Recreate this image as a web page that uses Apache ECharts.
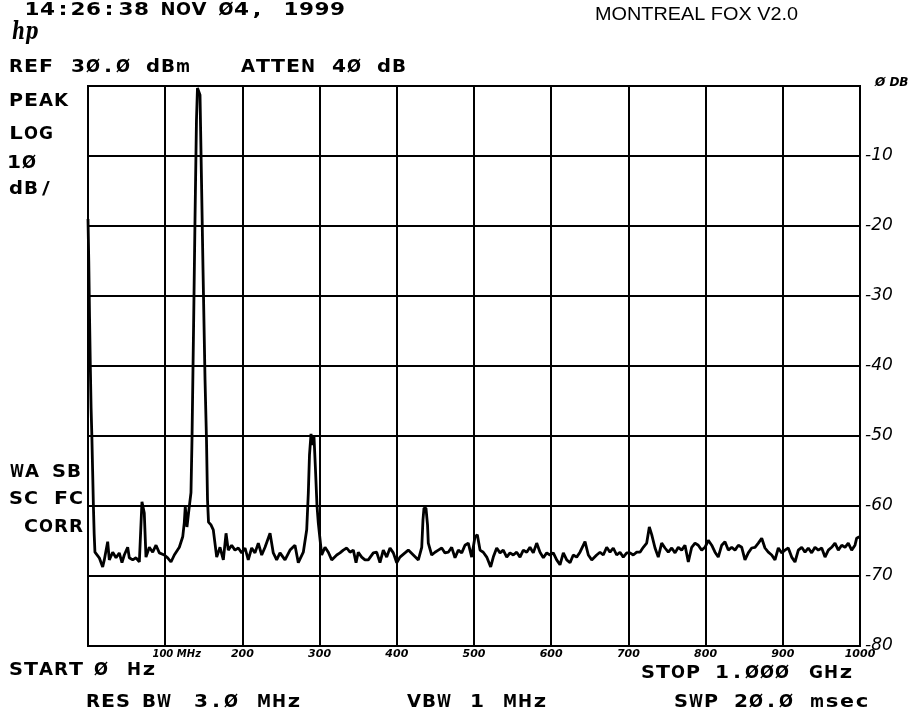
<!DOCTYPE html>
<html><head><meta charset="utf-8">
<script src="https://cdn.jsdelivr.net/npm/echarts@6/dist/echarts.min.js"></script>
<style>html,body{margin:0;padding:0;background:#fff}#c{width:916px;height:716px}</style>
</head><body><div id="c"></div>
<script>
// ---- data (frequency in MHz, level in dB relative to REF) ----
const freqMHz = [
  0,1,2,3,4,5,6,7,8,9,
  10.4,14.6,19.0,21.1,25.5,27.6,32.0,36.3,40.5,44.0,
  47.0,51.4,53.5,57.9,62.2,66.5,69.9,72.9,75.1,79.4,
  83.8,88.1,92.4,98.8,103.2,107.5,111.8,118.3,122.7,124.7,
  126.0,128.2,131.2,133.4,134.7,136.7,138.6,140.5,141.8,143.1,
  145.1,147.0,149.0,151.6,153.5,154.8,156.1,159.3,162.3,166.7,
  171.0,175.3,178.8,181.7,186.1,190.4,194.7,199.1,203.4,207.6,
  212.0,216.3,220.6,225.0,229.3,235.8,240.0,244.4,248.7,255.2,
  261.7,268.1,272.4,278.9,283.3,285.4,286.9,288.9,290.8,292.7,
  294.7,296.6,298.3,302.7,307.0,311.3,315.7,322.2,326.4,330.7,
  335.1,339.4,343.7,347.2,350.1,354.5,358.8,363.1,369.6,373.9,
  378.2,382.5,386.9,391.2,395.5,399.9,404.1,410.6,414.9,421.4,
  427.9,432.3,433.9,435.2,437.8,439.8,440.8,445.2,449.5,453.8,
  458.2,462.4,466.7,471.1,475.4,479.7,484.1,488.3,492.6,497.0,
  501.3,504.3,507.8,512.0,516.5,521.6,525.0,529.4,533.7,537.9,
  542.4,546.6,550.9,555.3,559.6,563.9,568.3,572.5,576.8,581.2,
  585.5,589.8,594.2,598.4,602.7,607.1,611.4,615.7,620.1,624.4,
  628.6,633.0,637.3,643.8,648.1,652.5,654.5,658.9,663.2,667.5,
  671.9,676.2,680.4,684.8,689.1,693.4,697.8,702.1,706.3,710.8,
  715.0,719.3,723.7,727.1,730.2,734.5,738.7,743.1,747.4,751.7,
  756.1,760.4,764.6,769.0,773.3,777.6,782.0,786.3,790.5,794.9,
  799.2,803.5,807.9,812.2,816.4,820.9,825.1,829.4,833.8,838.1,
  842.4,846.8,851.0,855.3,859.7,864.0,868.3,872.7,876.9,881.2,
  885.6,889.9,894.2,898.6,902.8,907.1,911.5,915.8,920.1,924.5,
  928.8,933.0,937.4,941.7,946.0,950.4,954.7,959.0,963.3,967.6,
  971.9,976.3,980.6,984.8,989.2,993.5,995.7,999.1,1000
];
const levelDb = [
  -19.0,-25,-33,-40,-46,-50,-55,-60,-64,-66.6,
  -66.6,-67.4,-68.7,-67.7,-65.1,-67.7,-66.6,-67.4,-66.7,-68.1,
  -67.0,-65.9,-67.4,-67.7,-67.4,-68.0,-59.4,-61.0,-67.3,-65.9,
  -66.6,-65.6,-66.7,-67.0,-67.4,-68.0,-67.0,-65.9,-64.4,-62.4,
  -60.1,-63.0,-60.1,-58.1,-50.6,-34.9,-19.1,-4.9,-0.3,-0.1,
  -1.3,-13.4,-26.3,-42.0,-50.6,-59.1,-62.3,-62.7,-63.4,-67.3,
  -65.9,-67.7,-63.9,-66.3,-65.6,-66.3,-66.0,-66.7,-66.0,-67.7,
  -66.0,-66.7,-65.3,-67.0,-65.9,-63.9,-66.7,-67.7,-66.7,-67.7,
  -66.3,-65.6,-68.1,-66.6,-63.4,-58.1,-52.7,-49.7,-51.3,-50.0,
  -54.9,-59.9,-62.4,-67.0,-65.9,-66.6,-67.7,-67.0,-66.7,-66.3,
  -66.0,-66.6,-66.3,-68.1,-66.6,-67.3,-67.7,-67.7,-66.7,-66.6,
  -68.1,-66.3,-67.3,-66.0,-66.7,-68.1,-67.3,-66.7,-66.3,-67.0,
  -67.7,-65.9,-62.0,-60.3,-60.3,-62.7,-65.3,-67.0,-66.6,-66.3,
  -66.0,-66.7,-66.6,-65.9,-67.4,-66.3,-66.7,-65.6,-65.3,-67.3,
  -64.4,-64.1,-66.3,-66.6,-67.3,-68.7,-67.3,-66.0,-66.7,-66.3,
  -67.3,-66.7,-67.0,-66.6,-67.3,-66.3,-66.6,-65.9,-66.7,-65.3,
  -66.6,-67.4,-66.7,-67.0,-66.7,-67.7,-68.4,-66.7,-67.7,-68.1,
  -67.0,-67.3,-66.6,-65.1,-67.0,-67.7,-67.7,-67.0,-66.6,-67.0,
  -65.9,-66.6,-66.0,-67.0,-66.6,-67.3,-66.7,-66.7,-67.0,-66.6,
  -66.6,-65.9,-65.3,-63.0,-64.1,-66.0,-67.3,-65.3,-66.0,-66.6,
  -66.0,-66.7,-65.9,-66.3,-65.6,-68.0,-65.9,-65.3,-65.6,-66.3,
  -65.9,-64.9,-65.6,-66.6,-67.3,-65.6,-65.1,-66.3,-65.9,-66.3,
  -65.6,-65.9,-67.7,-66.7,-66.0,-65.9,-65.3,-64.6,-66.0,-66.6,
  -67.0,-67.7,-66.0,-66.7,-66.3,-66.0,-67.3,-68.0,-66.3,-65.9,
  -66.6,-66.0,-66.7,-65.9,-66.3,-66.0,-67.3,-66.3,-65.9,-65.3,
  -66.3,-65.6,-65.9,-65.3,-66.3,-65.6,-64.6,-64.4,-64.4
];
const xTickValues = [100,200,300,400,500,600,700,800,900,1000];
const xTickLabels = ['100 MHz','200','300','400','500','600','700','800','900','1000'];
const yTickValues = [0,-10,-20,-30,-40,-50,-60,-70,-80];
const yTickLabels = ['Ø DB','-10','-20','-30','-40','-50','-60','-70','-80'];

// ---- instrument annotation words: [text, firstGlyphLeft, midY, fontSize] ----
const words = [
  ['14:',28,10,18],['26:',72,10,18],['38',120,10,18],['NOV',162,10,18],['Ø4,',220,10,18],['1999',287,10,18],
  ['REF',10,67.5,17],['3Ø.Ø',72,67.5,17],['dBm',147,67.5,17],['ATTEN',242,67.5,17],['4Ø',333,67.5,17],['dB',378,67.5,17],
  ['PEAK',10,101.5,17],['LOG',10,135,17],['1Ø',10,163.5,17],['dB/',10,190,17],
  ['WA',10,473,17],['SB',53,473,17],['SC',10,500,17],['FC',55,500,17],['CORR',25,527.5,17],
  ['START',10,671,17],['Ø',95,671,17],['Hz',128,671,17],
  ['RES',87,702.5,17],['BW',143,702.5,17],['3.Ø',195,702.5,17],['MHz',257,702.5,17],
  ['VBW',408,702.5,17],['1',473,702.5,17],['MHz',503,702.5,17],
  ['STOP',642,673.5,17],['1.ØØØ',718,673.5,17],['GHz',810,673.5,17],
  ['SWP',675,702.5,17],['2Ø.Ø',735,702.5,17],['msec',810,702.5,17]
];
const ctx = document.createElement('canvas').getContext('2d');
function halfW(c) { return ':,.'.indexOf(c) >= 0 ? 3 : (c === '1' ? 4 : (c === 'M' || c === 'W' || c === 'm' ? 7 : 6)); }
function wordChars(w) {
  const t = w[0], l = w[1], y = w[2], size = w[3];
  const pitch = size >= 18 ? 15.5 : 15;
  const target = size >= 18 ? 15 : 14;
  const font = 'bold ' + size + 'px "DejaVu Sans"';
  ctx.font = font;
  const ch = Array.from(t), out = [];
  const c0 = l + halfW(ch[0]);
  ch.forEach((c, k) => {
    const adv = ctx.measureText(c).width;
    const sx = Math.min(1.25, target / adv);
    out.push({ type: 'text', x: c0 + k * pitch, y: y, silent: true, scaleX: sx,
      style: { text: c, font: font, fill: '#000', align: 'center', verticalAlign: 'middle' } });
  });
  return out;
}
function fitText(t, x1, x2, ymid, font) {
  ctx.font = font;
  const w = ctx.measureText(t).width;
  return { type: 'text', x: x1, y: ymid, scaleX: (x2 - x1) / w, silent: true,
    style: { text: t, font: font, fill: '#000', align: 'left', verticalAlign: 'middle' } };
}
let graphics = [];
words.forEach(w => { graphics = graphics.concat(wordChars(w)); });
graphics.push(fitText('MONTREAL FOX V2.0', 595, 798, 15, 'normal 19px "Liberation Sans"'));
graphics.push(fitText('hp', 12, 38, 33, 'italic bold 24px "DejaVu Serif"'));

const chart = echarts.init(document.getElementById('c'), null, { renderer: 'canvas' });
chart.setOption({
  animation: false,
  backgroundColor: '#fff',
  grid: { left: 88, top: 86, right: 56, bottom: 70, show: true, borderColor: '#000', borderWidth: 2 },
  xAxis: {
    type: 'value', min: 0, max: 1000, interval: 100,
    axisLine: { show: true, lineStyle: { color: '#000', width: 2 } },
    axisTick: { show: false },
    splitLine: { show: true, lineStyle: { color: '#000', width: 2 } },
    axisLabel: {
      margin: 3, color: '#000', fontSize: 11, fontStyle: 'italic', fontWeight: 'bold', fontFamily: 'DejaVu Sans',
      formatter: v => { const i = xTickValues.indexOf(v); if (i < 0) return ''; return i === 0 ? '{m|' + xTickLabels[i] + '}' : xTickLabels[i]; },
      rich: { m: { fontSize: 10, fontStyle: 'italic', fontWeight: 'bold', fontFamily: 'DejaVu Sans', padding: [0, 0, 0, 23] } }
    }
  },
  yAxis: {
    type: 'value', min: -80, max: 0, interval: 10, position: 'right',
    axisLine: { show: true, lineStyle: { color: '#000', width: 2 } },
    axisTick: { show: false },
    splitLine: { show: true, lineStyle: { color: '#000', width: 2 } },
    axisLabel: {
      margin: 5, color: '#000', fontSize: 17, fontStyle: 'italic', fontFamily: 'DejaVu Sans',
      formatter: v => { const i = yTickValues.indexOf(v); if (i < 0) return ''; return i === 0 ? '{s|' + yTickLabels[i] + '}' : yTickLabels[i]; },
      rich: { s: { fontSize: 12, fontStyle: 'italic', fontWeight: 'bold', fontFamily: 'DejaVu Sans', padding: [0, 0, 6, 10] } }
    }
  },
  series: [{
    type: 'line', data: freqMHz.map((f, i) => [f, levelDb[i]]),
    showSymbol: false, symbol: 'none', smooth: false, clip: true,
    lineStyle: { color: '#000', width: 2.8 }, z: 5
  }],
  graphic: graphics
});
</script></body></html>
